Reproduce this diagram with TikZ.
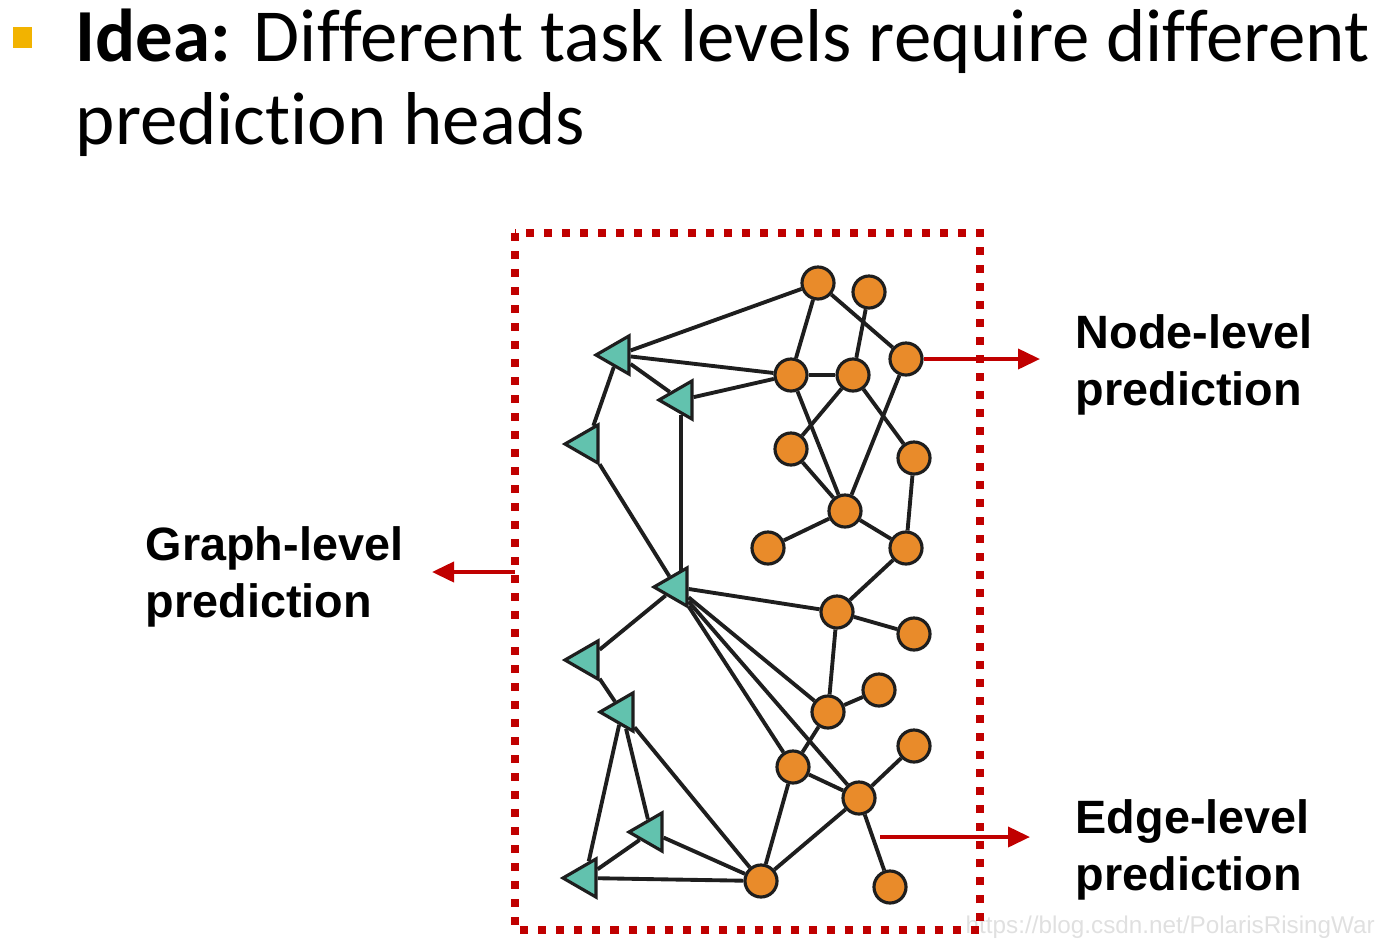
\documentclass[tikz,border=0pt]{standalone}
\usepackage{fontspec}
\setmainfont{Carlito}[Ligatures={NoCommon}]
\newfontfamily\labfont{Liberation Sans}
\usetikzlibrary{shapes.geometric,arrows.meta,calc}
\definecolor{dred}{HTML}{C00000}
\definecolor{orng}{HTML}{E98B2A}
\definecolor{tealx}{HTML}{62C2AE}
\definecolor{bul}{HTML}{F2B300}
\definecolor{edgec}{HTML}{1E1E1E}
\begin{document}
\begin{tikzpicture}[x=0.01cm,y=-0.01cm,
 cnode/.style={circle,draw=edgec,fill=orng,line width=0.9pt,minimum size=0.32cm,inner sep=0pt},
 tnode/.style={regular polygon,regular polygon sides=3,shape border rotate=90,draw=edgec,fill=tealx,line width=0.9pt,minimum size=0.44cm,inner sep=0pt},
 link/.style={line width=1.1pt,edgec},
 redarrow/.style={dred,line width=1.1pt,-{Triangle[length=0.22cm,width=0.2cm]}},
 lab/.style={anchor=base west,inner sep=0pt,font=\labfont\bfseries\fontsize{13.3pt}{16pt}\selectfont},
 ttl/.style={anchor=base west,inner sep=0pt,font=\fontsize{21.3pt}{24pt}\selectfont},
 wmark/.style={anchor=base west,inner sep=0pt,text=black!12,font=\labfont\fontsize{6.9pt}{8pt}\selectfont}]
\useasboundingbox (0,0) rectangle (1400,951);

% title
\fill[bul] (13,27) rectangle (32,48);
\node[ttl] (title1) at (75,61) {\textbf{Idea:} Different task levels require different};
\node[ttl] (title2) at (75,144) {prediction heads};

% watermark
\node[wmark] (wm) at (965,933) {https://blog.csdn.net/PolarisRisingWar};

% dotted box
\draw[dred,line width=0.08cm,dash pattern=on 0.08cm off 0.1cm] (515,233) rectangle (980,930);

% circle nodes
\node[cnode] (c1) at (818,283) {};
\node[cnode] (c2) at (869,292) {};
\node[cnode] (c3) at (906,359) {};
\node[cnode] (c4) at (791,375) {};
\node[cnode] (c5) at (853,375) {};
\node[cnode] (c6) at (791,449) {};
\node[cnode] (c7) at (914,458) {};
\node[cnode] (c8) at (845,511) {};
\node[cnode] (c9) at (768,548) {};
\node[cnode] (c10) at (906,548) {};
\node[cnode] (c11) at (837,612) {};
\node[cnode] (c12) at (914,634) {};
\node[cnode] (c13) at (879,690) {};
\node[cnode] (c14) at (828,712) {};
\node[cnode] (c15) at (914,746) {};
\node[cnode] (c16) at (793,767) {};
\node[cnode] (c17) at (859,798) {};
\node[cnode] (c18) at (761,881) {};
\node[cnode] (c19) at (890,887) {};

% triangle nodes
\node[tnode] (t1) at (618,355) {};
\node[tnode] (t2) at (681,400) {};
\node[tnode] (t3) at (587,444) {};
\node[tnode] (t4) at (676,587) {};
\node[tnode] (t5) at (587,660) {};
\node[tnode] (t6) at (622,712) {};
\node[tnode] (t7) at (651,832) {};
\node[tnode] (t8) at (585,878) {};

% edges
\foreach \a/\b in {c1/t1,c4/t1,c4/t2,t1/t2,t1/t3,t3/t4,
  c1/c4,c1/c3,c2/c5,c4/c5,c4/c8,c5/c6,c5/c7,c3/c8,c6/c8,c8/c9,c8/c10,c7/c10,c10/c11,
  t4/c11,t4/t5,t4/c14,t4/c17,t4/c16,c11/c12,c11/c14,c14/c13,c14/c16,c16/c17,c17/c15,c17/c19,c17/c18,c16/c18,
  t5/t6,t6/c18,t6/t7,t6/t8,t7/c18,t7/t8,t8/c18}
  \draw[link] (\a) -- (\b);
\draw[link] (t2.south) -- (t2.south |- t4.north);

% arrows
\coordinate (nend) at (1040,359);
\draw[redarrow] (c3.east) -- (nend);
\coordinate (estart) at (880,837);
\coordinate (eend) at (1030,837);
\draw[redarrow] (estart) -- (eend);
\coordinate (gstart) at (515,572);
\coordinate (gend) at (432,572);
\draw[redarrow] (gstart) -- (gend);

% labels
\node[lab] (nl1) at (1075,348) {Node-level};
\node[lab] (nl2) at (1075,405) {prediction};
\node[lab] (el1) at (1075,833) {Edge-level};
\node[lab] (el2) at (1075,890) {prediction};
\node[lab] (gl1) at (145,560) {Graph-level};
\node[lab] (gl2) at (145,617) {prediction};
\end{tikzpicture}
\end{document}
